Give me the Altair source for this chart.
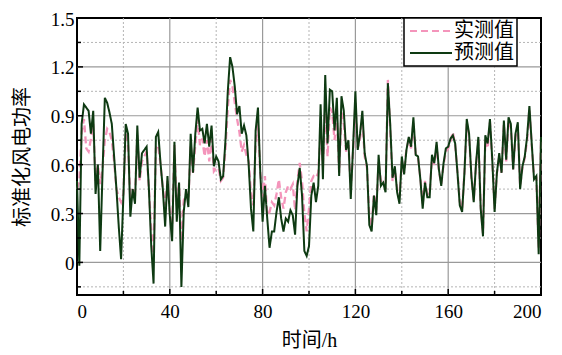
import altair as alt
import pandas as pd

hours = list(range(201))

actual = [
    0.45, 0.50, 0.80, 0.88, 0.70, 0.68, 0.76, 0.85, 0.50, 0.60,
    0.48, 0.58, 0.75, 0.82, 0.80, 0.75, 0.62, 0.45, 0.40, 0.37,
    0.42, 0.80, 0.72, 0.38, 0.45, 0.40, 0.78, 0.50, 0.62, 0.65,
    0.68, 0.45, 0.20, 0.05, 0.70, 0.72, 0.60, 0.45, 0.35, 0.50,
    0.32, 0.22, 0.72, 0.35, 0.48, 0.13, 0.38, 0.42, 0.38, 0.72,
    0.55, 0.72, 0.88, 0.72, 0.76, 0.65, 0.75, 0.62, 0.76, 0.56,
    0.58, 0.58, 0.50, 0.52, 0.70, 0.95, 1.12, 1.08, 0.98, 0.88,
    0.80, 0.68, 0.72, 0.66, 0.62, 0.42, 0.35, 0.72, 0.85, 0.55,
    0.40, 0.53, 0.29, 0.31, 0.37, 0.35, 0.42, 0.51, 0.40, 0.33,
    0.43, 0.47, 0.45, 0.48, 0.32, 0.50, 0.61, 0.50, 0.30, 0.19,
    0.33, 0.50, 0.53, 0.52, 0.55, 0.80, 0.60, 0.95, 0.65, 0.95,
    0.92, 0.75, 0.90, 0.55, 0.92, 0.85, 0.68, 0.72, 0.45, 0.68,
    0.98, 0.70, 0.76, 0.88, 0.65, 0.58, 0.28, 0.22, 0.42, 0.32,
    0.62, 0.50, 0.50, 0.45, 1.12, 0.82, 0.50, 0.57, 0.45, 0.40,
    0.62, 0.55, 0.70, 0.75, 0.70, 0.86, 0.66, 0.64, 0.52, 0.36,
    0.50, 0.42, 0.42, 0.64, 0.60, 0.72, 0.56, 0.48, 0.60, 0.68,
    0.70, 0.74, 0.80, 0.72, 0.55, 0.37, 0.33, 0.55, 0.85, 0.78,
    0.52, 0.38, 0.60, 0.75, 0.35, 0.18, 0.75, 0.70, 0.86, 0.62,
    0.33, 0.55, 0.65, 0.55, 0.85, 0.62, 0.87, 0.83, 0.57, 0.77,
    0.84, 0.47, 0.58, 0.64, 0.75, 0.94, 0.72, 0.52, 0.52, 0.08,
    0.75,
]

predicted = [
    0.50, -0.02, 0.85, 0.97, 0.95, 0.93, 0.79, 0.93, 0.42, 0.60,
    0.07, 0.55, 1.01, 0.98, 0.92, 0.85, 0.65, 0.45, 0.22, 0.02,
    0.41, 0.85, 0.79, 0.28, 0.45, 0.36, 0.84, 0.52, 0.67, 0.69,
    0.71, 0.45, 0.10, -0.13, 0.77, 0.80, 0.61, 0.45, 0.22, 0.53,
    0.29, 0.13, 0.74, 0.25, 0.49, -0.15, 0.31, 0.45, 0.34, 0.79,
    0.55, 0.79, 0.95, 0.81, 0.82, 0.73, 0.85, 0.71, 0.84, 0.59,
    0.65, 0.62, 0.51, 0.53, 0.75, 1.05, 1.26, 1.20, 1.08, 0.91,
    0.96, 0.79, 0.84, 0.78, 0.60, 0.33, 0.19, 0.81, 0.95, 0.55,
    0.25, 0.47, 0.27, 0.09, 0.19, 0.19, 0.31, 0.40, 0.27, 0.19,
    0.27, 0.25, 0.32, 0.29, 0.17, 0.47, 0.58, 0.41, 0.07, 0.04,
    0.10, 0.41, 0.49, 0.37, 0.47, 0.97, 0.51, 1.15, 0.73, 1.06,
    1.05, 0.81, 1.01, 0.53, 1.02, 0.93, 0.69, 0.75, 0.39, 0.71,
    1.05, 0.69, 0.79, 0.93, 0.67, 0.59, 0.23, 0.19, 0.41, 0.29,
    0.66, 0.47, 0.49, 0.43, 1.10, 0.85, 0.52, 0.59, 0.43, 0.36,
    0.65, 0.54, 0.69, 0.77, 0.71, 0.89, 0.66, 0.65, 0.51, 0.33,
    0.49, 0.40, 0.40, 0.66, 0.61, 0.74, 0.57, 0.47, 0.61, 0.70,
    0.71, 0.76, 0.78, 0.73, 0.55, 0.35, 0.31, 0.55, 0.88, 0.79,
    0.53, 0.37, 0.61, 0.77, 0.33, 0.16, 0.78, 0.73, 0.88, 0.63,
    0.31, 0.55, 0.67, 0.55, 0.87, 0.63, 0.89, 0.85, 0.57, 0.79,
    0.86, 0.45, 0.59, 0.65, 0.77, 0.96, 0.73, 0.51, 0.53, 0.05,
    0.77,
]

series_names = ["实测值", "预测值"]
series_colors = ["#f495bb", "#0e3a12"]
x_major = [0, 40, 80, 120, 160, 200]
x_major_grid = [40, 80, 120, 160]
x_minor = [20, 60, 100, 140, 180]
y_major = [0, 0.3, 0.6, 0.9, 1.2, 1.5]
y_major_grid = [0, 0.3, 0.6, 0.9, 1.2]
y_minor = [-0.15, 0.15, 0.45, 0.75, 1.05, 1.35]

df = pd.DataFrame({
    "t": hours + hours,
    "v": actual + predicted,
    "s": [series_names[0]] * len(hours) + [series_names[1]] * len(hours),
})

W, H = 464, 277
SERIF = "Liberation Serif, DejaVu Serif, Noto Sans CJK SC, serif"

xs = alt.Scale(domain=[0, 200], nice=False, zero=False)
ys = alt.Scale(domain=[-0.2, 1.5], nice=False, zero=False)

xaxis = alt.Axis(values=x_major, grid=False, ticks=False, domain=False,
                 labelPadding=7, title="时间/h",
                 titleX=W / 2, titleY=45, titleBaseline="middle", titleAlign="center")
yaxis = alt.Axis(values=y_major, grid=False, ticks=False, domain=False,
                 labelExpr="datum.value == 0 ? '0' : format(datum.value, '.1f')",
                 labelPadding=3, labelOffset=1, title="标准化风电功率",
                 titleX=-55, titleY=H / 2, titleAngle=270,
                 titleBaseline="middle", titleAlign="center")

leg = alt.Legend(title=None, orient="none", legendX=327, legendY=0,
                 fillColor="white", strokeColor="black",
                 padding=3, symbolType="M-3,0H3", symbolSize=196,
                 symbolOffset=14, symbolStrokeWidth=2.2, labelOffset=13)

color = alt.Color("s:N", scale=alt.Scale(domain=series_names, range=series_colors), legend=leg)
dash = alt.StrokeDash("s:N", scale=alt.Scale(domain=series_names, range=[[7, 4], [1, 0]]), legend=leg)

X = alt.X("t:Q", scale=xs, axis=xaxis)
Y = alt.Y("v:Q", scale=ys, axis=yaxis)

def vrules(vals, **kw):
    return alt.Chart(pd.DataFrame({"t": vals})).mark_rule(**kw).encode(
        x=alt.X("t:Q", scale=xs, axis=xaxis))

def hrules(vals, **kw):
    return alt.Chart(pd.DataFrame({"v": vals})).mark_rule(**kw).encode(
        y=alt.Y("v:Q", scale=ys, axis=yaxis))

minor_x = vrules(x_minor, color="#b5b5b5", strokeDash=[2, 2], strokeWidth=1)
minor_y = hrules(y_minor, color="#b5b5b5", strokeDash=[2, 2], strokeWidth=1)
major_x = vrules(x_major_grid, color="#9a9a9a", strokeWidth=1.2)
major_y = hrules(y_major_grid, color="#9a9a9a", strokeWidth=1.2)

line_actual = alt.Chart(df).transform_filter(
    alt.datum.s == series_names[0]).mark_line(strokeWidth=2.3).encode(
    x=X, y=Y, color=color, strokeDash=dash)
line_pred = alt.Chart(df).transform_filter(
    alt.datum.s == series_names[1]).mark_line(strokeWidth=2).encode(
    x=X, y=Y, color=color, strokeDash=dash)

xt_major = alt.Chart(pd.DataFrame({"t": x_major})).mark_rule(color="black", strokeWidth=1.5).encode(
    x=alt.X("t:Q", scale=xs, axis=xaxis), y=alt.value(H), y2=alt.value(H - 6))
xt_minor = alt.Chart(pd.DataFrame({"t": x_minor})).mark_rule(color="black", strokeWidth=1.5).encode(
    x=alt.X("t:Q", scale=xs, axis=xaxis), y=alt.value(H), y2=alt.value(H - 4))
yt_major = alt.Chart(pd.DataFrame({"v": y_major})).mark_rule(color="black", strokeWidth=1.5).encode(
    y=alt.Y("v:Q", scale=ys, axis=yaxis), x=alt.value(0), x2=alt.value(6))
yt_minor = alt.Chart(pd.DataFrame({"v": y_minor})).mark_rule(color="black", strokeWidth=1.5).encode(
    y=alt.Y("v:Q", scale=ys, axis=yaxis), x=alt.value(0), x2=alt.value(4))

chart = alt.layer(
    minor_x, minor_y, major_x, major_y, line_actual, line_pred,
    xt_major, xt_minor, yt_major, yt_minor,
).properties(
    width=W, height=H,
    autosize=alt.AutoSizeParams(type="none"),
    padding={"left": 69, "top": 10, "right": 13, "bottom": 55},
    background="white",
).configure(font=SERIF
).configure_axis(labelFont=SERIF, labelFontSize=19, labelColor="black",
                 titleFont=SERIF, titleFontSize=20, titleFontWeight="normal",
                 titleColor="black"
).configure_legend(strokeWidth=1.5, cornerRadius=0, rowPadding=2,
                   labelFont=SERIF, labelFontSize=20, labelColor="black"
).configure_view(stroke="black", strokeWidth=2)

chart.save("out.html", embed_options={"renderer": "svg", "actions": False})
